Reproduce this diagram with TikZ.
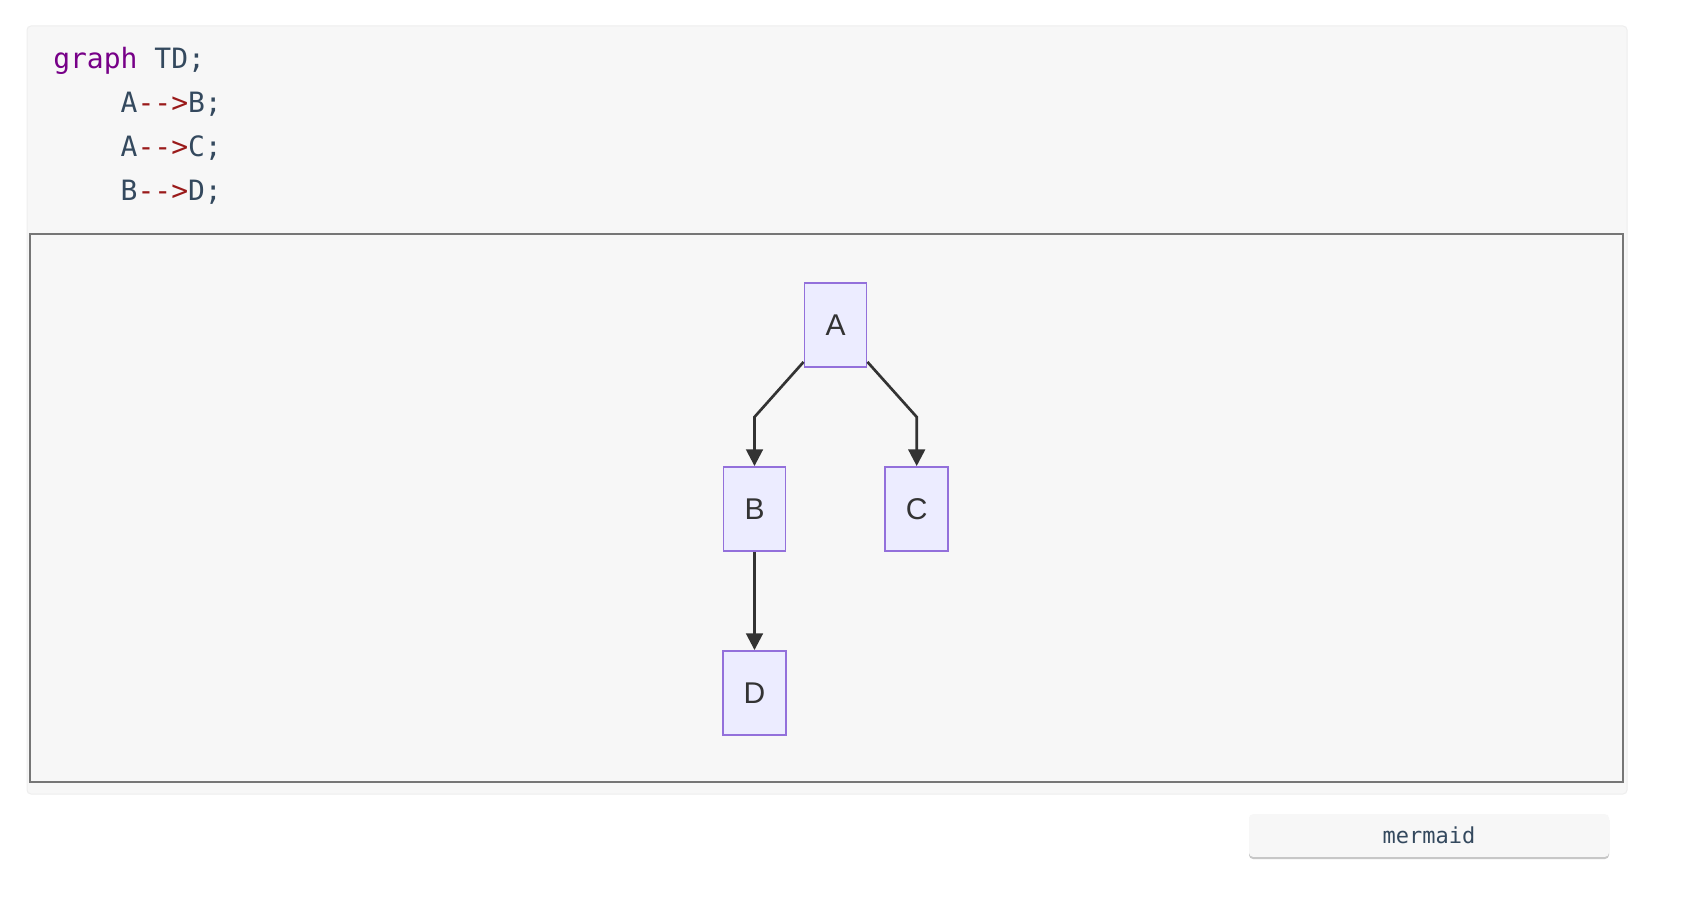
\documentclass[tikz,border=0pt]{standalone}
\usepackage{fontspec}
\setmainfont{Liberation Sans}
\newfontfamily\codefont{DejaVu Sans Mono}
\usetikzlibrary{arrows.meta}
\definecolor{panelbg}{HTML}{F7F7F7}
\definecolor{paneledge}{HTML}{EEEEEE}
\definecolor{boxedge}{HTML}{767676}
\definecolor{kw}{HTML}{770088}
\definecolor{codetxt}{HTML}{34495E}
\definecolor{op}{HTML}{9A1A1A}
\definecolor{nodefill}{HTML}{ECECFF}
\definecolor{nodeedge}{HTML}{9370DB}
\definecolor{edgecol}{HTML}{333333}
\tikzset{
  codeline/.style={anchor=base west, inner sep=0pt, font=\codefont\fontsize{21}{25}\selectfont, text=codetxt},
  flownode/.style={draw=nodeedge, fill=nodefill, line width=1.4pt, minimum width=47.5pt, minimum height=63pt, inner sep=0pt, font=\fontsize{22.5}{26}\selectfont, text=edgecol},
  flowedge/.style={draw=edgecol, line width=2pt, -{Triangle[length=12.5pt,width=12.5pt]}},
}
\newcommand{\arr}{\textcolor{op}{-\kern0pt-\kern0pt>}}
\begin{document}
\begin{tikzpicture}[x=0.75pt,y=-0.75pt]
\useasboundingbox (0,0) rectangle (1688,898);
\fill[white] (0,0) rectangle (1688,898);
% outer panel
\draw[fill=panelbg, draw=paneledge, line width=0.75pt, rounded corners=3pt] (27,26) rectangle (1627,794);
% code
\node[codeline] (l1) at (53,69) {\textcolor{kw}{graph} TD;};
\node[codeline] (l2) at (53,113) {\phantom{AAAA}A\arr B;};
\node[codeline] (l3) at (53,157) {\phantom{AAAA}A\arr C;};
\node[codeline] (l4) at (53,201) {\phantom{AAAA}B\arr D;};
% diagram box
\draw[fill=panelbg, draw=boxedge, line width=1.5pt] (30,234) rectangle (1623,782);
% nodes
\node[flownode, minimum width=46.5pt] (A) at (835.5,325) {A};
\node[flownode, minimum width=46.5pt] (B) at (754.5,509) {B};
\node[flownode] (C) at (916.7,509) {C};
\node[flownode] (D) at (754.5,693) {D};
\coordinate (ab) at (754.5,417);
\coordinate (ac) at (916.7,417);
\draw[flowedge] (A.south west) ++(0,-6) -- (ab) -- (B.north);
\draw[flowedge] (A.south east) ++(0,-6) -- (ac) -- (C.north);
\draw[flowedge] (B.south) -- (D.north);
% mermaid button
\fill[black!22, rounded corners=3pt] (1249,816) rectangle (1609,859);
\node[fill=panelbg, rounded corners=3pt, minimum width=270pt, minimum height=32pt, inner sep=0pt, text=codetxt, font=\codefont\fontsize{16.5}{20}\selectfont] (btn) at (1429,835.5) {mermaid};
\end{tikzpicture}
\end{document}
